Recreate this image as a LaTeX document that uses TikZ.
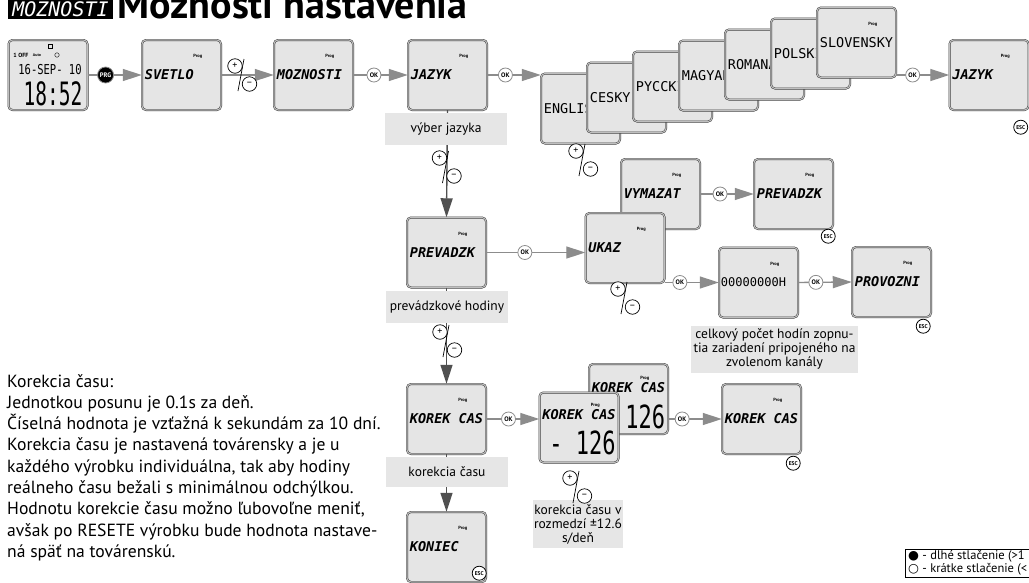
\documentclass[tikz,border=0pt]{standalone}
\usepackage{fontspec}
\usepackage{graphicx}
\setmainfont{PT Sans}
\newfontfamily\lcdfont{DejaVu Sans Mono}
\newfontfamily\symfont{DejaVu Sans}
\usetikzlibrary{arrows.meta,calc,positioning}
\definecolor{lcdfill}{RGB}{229,229,229}
\definecolor{notefill}{RGB}{230,230,230}
\definecolor{flowline}{RGB}{140,140,140}
\definecolor{downline}{RGB}{80,80,80}

\tikzset{
  screen/.style={draw=black!80,line width=0.45pt,double=black!25,double distance=1.1pt,
    rounded corners=4pt,fill=lcdfill,minimum width=79pt,minimum height=70pt,inner sep=0pt},
  lcdlabel/.style={font=\lcdfont\bfseries\itshape\fontsize{13.5}{13.5}\selectfont,inner sep=0pt,anchor=west},
  langlabel/.style={font=\lcdfont\fontsize{13.5}{13.5}\selectfont,inner sep=0pt,anchor=west},
  bigdigits/.style={font=\lcdfont\fontsize{22}{22}\selectfont,inner sep=0pt},
  progmark/.style={font=\bfseries\fontsize{4.5}{4.5}\selectfont,inner sep=0pt},
  flow/.style={draw=flowline,line width=1.4pt,-{Triangle[length=19pt,width=12pt]}},
  downflow/.style={flow,draw=downline},
  okbtn/.style={circle,draw,fill=white,line width=0.8pt,minimum size=14pt,inner sep=0pt,
    font=\bfseries\fontsize{6.5}{6.5}\selectfont},
  escbtn/.style={okbtn,font=\bfseries\fontsize{5.5}{5.5}\selectfont},
  prgbtn/.style={okbtn,fill=black,text=white,minimum size=16pt,font=\bfseries\fontsize{6.5}{6.5}\selectfont},
  pmbtn/.style={circle,draw,fill=white,line width=0.7pt,minimum size=14.5pt,inner sep=0pt,
    font=\fontsize{10}{10}\selectfont},
  note/.style={fill=notefill,inner sep=0pt,align=center,font=\fontsize{13.5}{14}\selectfont},
  pmsign/.pic={
    \draw[line width=0.7pt] (2,-16) -- (-4,16);
    \node[pmbtn] (-plus) at (-7,-9) {+};
    \node[pmbtn] (-minus) at (7.5,9) {--};
  }
}

% one LCD screen: [label style]{name}{x}{y}{text}
\newcommand{\lcdscreen}[5][lcdlabel]{%
  \node[screen] (#2) at (#3,#4) {};
  \node[progmark] (#2-prog) at ([shift={(56,17)}]#2.north west) {Prog};
  \node[#1] (#2-text) at ([xshift=3pt]#2.west) {#5};}

\begin{document}
\begin{tikzpicture}[x=1pt,y=-1pt,>=Stealth]
  \useasboundingbox (0,0) rectangle (1029,582);
  \fill[white] (0,0) rectangle (1029,582);

  % title
  \node[fill=black,anchor=south west,minimum width=105pt,minimum height=30pt,inner sep=0pt] (titlebox) at (8,19) {};
  \node[text=white,font=\lcdfont\itshape\fontsize{20}{20}\selectfont,anchor=base,inner sep=0pt] (titlelcd) at (60.5,16) {MOZNOSTI};
  \node[font=\bfseries\fontsize{40}{40}\selectfont,anchor=base west,inner sep=0pt] (title) at (117,18) {Možnosti nastavenia};

  % clock screen
  \node[screen] (clk) at (48,75) {};
  \node[draw,line width=0.6pt,minimum size=4pt,inner sep=0pt] (clk-icon) at (50,46) {};
  \node[font=\bfseries\fontsize{6}{6}\selectfont,inner sep=0pt] (clk-off) at (21,55) {1 OFF};
  \node[font=\bfseries\fontsize{4}{4}\selectfont,inner sep=0pt] (clk-auto) at (37,55) {Auto};
  \node[circle,draw,line width=0.4pt,minimum size=4.5pt,inner sep=0pt] (clk-dial) at (57,55) {};
  \node[font=\lcdfont\fontsize{10.5}{10.5}\selectfont,inner sep=0pt] (clk-date) at (50,70) {\scalebox{1}[1.3]{16-SEP- 10}};
  \node[font=\lcdfont\fontsize{19.5}{19.5}\selectfont,inner sep=0pt] (clk-time) at (53,94) {\scalebox{1}[1.65]{18:52}};

  % first row
  \lcdscreen{svetlo}{181.5}{75}{SVETLO}
  \lcdscreen{moznosti}{313.5}{75}{MOZNOSTI}
  \lcdscreen{jazyk}{447.5}{75}{JAZYK}
  \foreach \lang [count=\i from 0] in {ENGLISH,CESKY,PYCCKI,MAGYAR,ROMANA,POLSKI,SLOVENSKY}{
    \pgfmathsetmacro\lx{580.5+46*\i}
    \pgfmathsetmacro\ly{108.5-11*\i}
    \lcdscreen[langlabel]{lang\i}{\lx}{\ly}{\lang}
  }
  \lcdscreen{jazyk2}{989}{75}{JAZYK}

  % operating hours
  \lcdscreen{prev}{446.5}{252.5}{PREVADZK}
  \lcdscreen{vymazat}{660.5}{194}{VYMAZAT}
  \lcdscreen{prev2}{793.5}{194}{PREVADZK}
  \lcdscreen{ukaz}{625}{248}{UKAZ}
  \lcdscreen{hod}{758.5}{282.5}{}
  \node[langlabel,font=\lcdfont\fontsize{12}{12}\selectfont] (hod-val) at ([xshift=2pt]hod.west) {00000000H};
  \lcdscreen{provozni}{891.5}{282}{PROVOZNI}

  % time correction
  \lcdscreen{korek}{446.5}{419}{KOREK CAS}
  \node[screen] (kback) at (628.5,399) {};
  \node[progmark] (kback-prog) at ([shift={(56,15)}]kback.north west) {Prog};
  \node[lcdlabel] (kback-text) at ([shift={(3,-11)}]kback.west) {KOREK CAS};
  \node[bigdigits,anchor=south east] (kback-val) at ([shift={(-3,-5)}]kback.south east) {\scalebox{1}[1.45]{126}};
  \node[screen] (kfront) at (579,427.5) {};
  \node[progmark] (kfront-prog) at ([shift={(56,13)}]kfront.north west) {Prog};
  \node[lcdlabel] (kfront-text) at ([shift={(3,-13)}]kfront.west) {KOREK CAS};
  \node[bigdigits,anchor=south east] (kfront-val) at ([shift={(-3,-8)}]kfront.south east) {\scalebox{1}[1.45]{- 126}};
  \lcdscreen{korek3}{761.5}{419}{KOREK CAS}
  \lcdscreen{koniec}{446.5}{547}{KONIEC}

  % connectors
  \draw[flow] (clk.east) -- node[prgbtn,pos=.33] (prg) {PRG} (svetlo.west);
  \draw[flow] (svetlo.east) -- (moznosti.west);
  \pic (pm1) at (242,75) {pmsign};
  \draw[flow] (moznosti.east) -- node[okbtn,pos=.38] (ok1) {OK} (jazyk.west);
  \draw[flow] (jazyk.east) -- node[okbtn,pos=.34] (ok2) {OK} (jazyk.east -| lang0.west);
  \draw[flow] (lang6.east |- jazyk2.west) -- node[okbtn,pos=.31] (ok3) {OK} (jazyk2.west);
  \draw[downflow] (jazyk.south) -- (prev.north);
  \draw[flow] (prev.east) -- node[okbtn,pos=.39] (ok4) {OK} (prev.east -| ukaz.west);
  \draw[flow] (vymazat.east) -- node[okbtn,pos=.37] (ok5) {OK} (prev2.west);
  \draw[flow] (ukaz.east |- hod.west) -- node[okbtn,pos=.28] (ok6) {OK} (hod.west);
  \draw[flow] (hod.east) -- node[okbtn,pos=.33] (ok7) {OK} (provozni.west);
  \draw[downflow] (prev.south) -- (korek.north);
  \draw[flow] (korek.east) -- node[okbtn,pos=.42] (ok8) {OK} (korek.east -| kfront.west);
  \draw[flow] (kback.east |- korek3.west) -- node[okbtn,pos=.26] (ok9) {OK} (korek3.west);
  \draw[downflow] (korek.south) -- (koniec.north);

  % notes
  \node[note,minimum width=122pt,minimum height=32pt] (jazyk-note) at (446,129) {výber jazyka};
  \node[note,minimum width=122pt,minimum height=32pt] (prev-note) at (447,307) {prevádzkové hodiny};
  \node[note,minimum width=122pt,minimum height=30pt] (korek-note) at (447,472) {korekcia času};
  \node[note,minimum width=167pt,minimum height=47pt] (hod-note) at (774.5,349)
    {celkový počet hodín zopnu-\\tia zariadení pripojeného na\\zvolenom kanály};
  \node[note,minimum width=90pt,minimum height=48pt] (kval-note) at (578,524)
    {korekcia času v\\rozmedzí ±12.6\\s/deň};

  % plus/minus keys
  \pic (pm2) at (446.5,167) {pmsign};
  \pic (pm3) at (447,341) {pmsign};
  \pic (pm4) at (583,160) {pmsign};
  \pic (pm5) at (625,298) {pmsign};
  \pic (pm6) at (577,487) {pmsign};

  % esc keys
  \node[escbtn] (esc1) at ([shift={(-8,17)}]jazyk2.south east) {ESC};
  \node[escbtn] (esc2) at ([shift={(-5,7)}]prev2.south east) {ESC};
  \node[escbtn] (esc3) at ([shift={(-8,9)}]provozni.south east) {ESC};
  \node[escbtn] (esc4) at ([shift={(-8,9)}]korek3.south east) {ESC};
  \node[escbtn] (esc5) at ([shift={(-7,-9)}]koniec.south east) {ESC};

  % explanation
  \node[anchor=north west,align=left,inner sep=0pt,font=\fontsize{17.6}{21.3}\selectfont] (corrtext) at (7,374)
    {Korekcia času:\\
     Jednotkou posunu je 0.1s za deň.\\
     Číselná hodnota je vzťažná k sekundám za 10 dní.\\
     Korekcia času je nastavená továrensky a je u\\
     každého výrobku individuálna, tak aby hodiny\\
     reálneho času bežali s minimálnou odchýlkou.\\
     Hodnotu korekcie času možno ľubovoľne meniť,\\
     avšak po RESETE výrobku bude hodnota nastave-\\
     ná späť na továrenskú.};

  % legend
  \node[anchor=north west,align=left,inner sep=1pt,font=\fontsize{12.5}{13.5}\selectfont] (legend) at (907,549)
    {{\symfont ●} - dlhé stlačenie (>1\\{\symfont ○} - krátke stlačenie (<};
  \draw[line width=0.5pt] (1040,549) -- (905,549) -- (905,577) -- (1040,577);
\end{tikzpicture}
\end{document}
